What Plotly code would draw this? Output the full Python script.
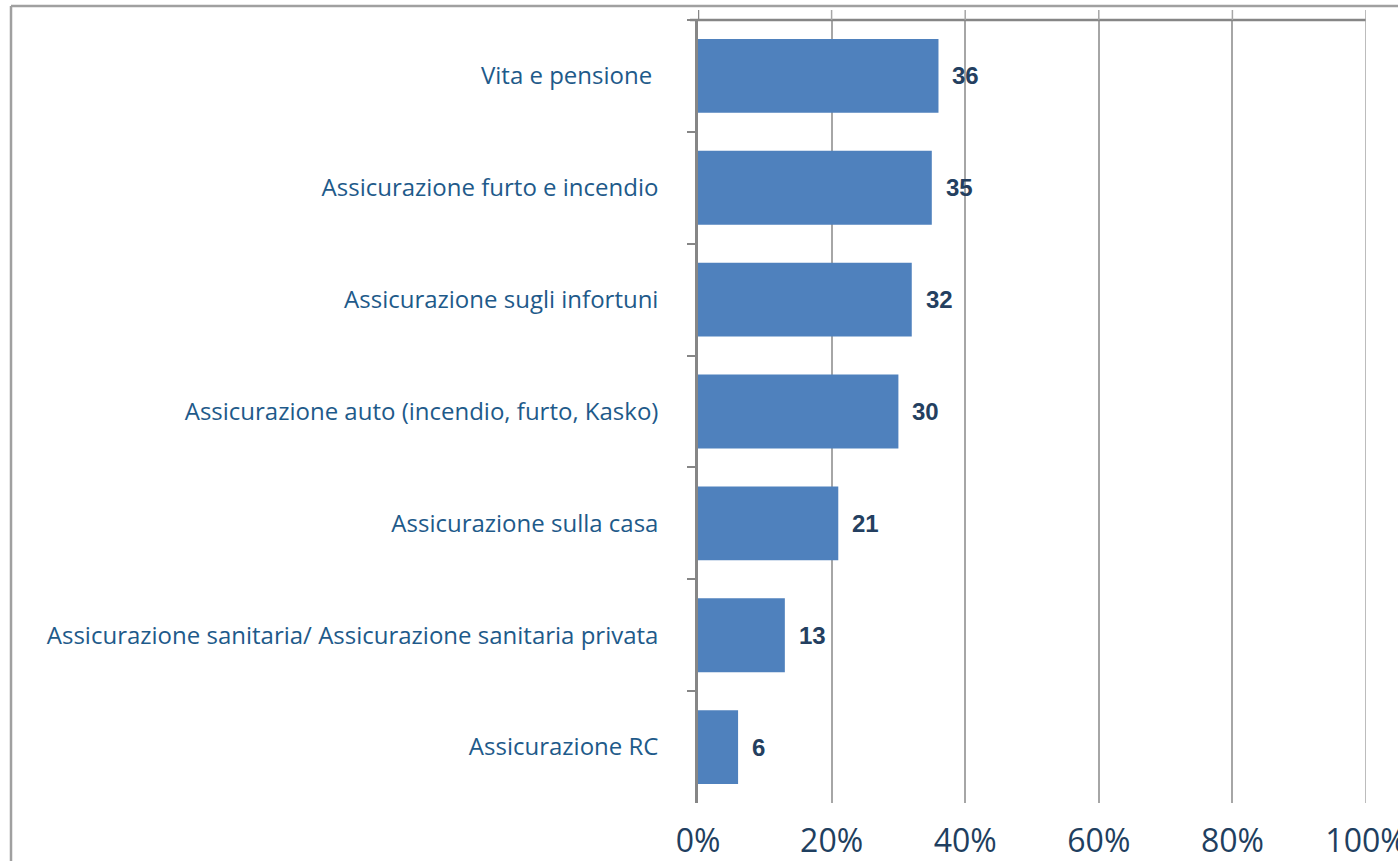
import plotly.graph_objects as go

categories = [
    "Vita e pensione ",
    "Assicurazione furto e incendio",
    "Assicurazione sugli infortuni",
    "Assicurazione auto (incendio, furto, Kasko)",
    "Assicurazione sulla casa",
    "Assicurazione sanitaria/ Assicurazione sanitaria privata",
    "Assicurazione RC",
]
values = [36, 35, 32, 30, 21, 13, 6]
tick_vals = [0, 20, 40, 60, 80, 100]
tick_labels = ["0%", "20%", "40%", "60%", "80%", "100%"]

W, H = 1398, 861
L, R, T, B = 698, 32, 20, 58
pw, ph = W - L - R, H - T - B

fig = go.Figure()
fig.add_trace(go.Bar(
    x=values, y=categories, orientation="h",
    marker=dict(color="#4F81BD", line=dict(width=0)),
    hoverinfo="x+y",
))

for c, v in zip(categories, values):
    fig.add_annotation(
        x=v, y=c, xref="x", yref="y", text=f"<b>{v}</b>", showarrow=False,
        xanchor="left", yanchor="middle", xshift=12,
        font=dict(family="Liberation Sans, Arial", size=24, color="#243F60"),
    )

shapes = []
# outer frame
shapes.append(dict(type="line", xref="paper", yref="paper",
                   x0=(11 - L) / pw, x1=(W + 5 - L) / pw,
                   y0=1 + (T - 6) / ph, y1=1 + (T - 6) / ph,
                   line=dict(color="#A0A0A0", width=2.5)))
shapes.append(dict(type="line", xref="paper", yref="paper",
                   x0=(11 - L) / pw, x1=(11 - L) / pw,
                   y0=1 + (T - 6) / ph, y1=-(B + 5) / ph,
                   line=dict(color="#A0A0A0", width=2.5)))
# top border of plot
shapes.append(dict(type="line", xref="paper", yref="paper",
                   x0=-8 / pw, x1=1, y0=1, y1=1,
                   line=dict(color="#868686", width=2.5)))
# small extensions of gridlines above the top line, and the 100% line
for tv in tick_vals:
    y0 = 0 if tv == tick_vals[-1] else 1
    shapes.append(dict(type="line", xref="x", yref="paper",
                       x0=tv, x1=tv, y0=y0, y1=1 + 10 / ph,
                       line=dict(color="#A6A6A6" if tv else "#868686",
                                 width=1.5 if tv else 2.5)))

fig.update_layout(
    width=W, height=H, autosize=False,
    margin=dict(l=L, r=R, t=T, b=B, pad=0, autoexpand=False),
    paper_bgcolor="white", plot_bgcolor="white",
    bargap=0.34,
    showlegend=False,
    shapes=shapes,
    xaxis=dict(
        range=[0, 100], tickvals=tick_vals, ticktext=tick_labels,
        showgrid=True, gridcolor="#A6A6A6", gridwidth=1.5,
        zeroline=False, showline=False, ticks="",
        tickfont=dict(family="Open Sans, Noto Sans", size=32, color="#1F3F60"),
        ticklabelstandoff=16,
        ticklabeloverflow="allow",
        automargin=False,
    ),
    yaxis=dict(
        autorange="reversed",
        showline=True, linecolor="#868686", linewidth=2.5,
        ticks="outside", ticklen=8, tickcolor="#868686", tickwidth=1.5,
        tickson="boundaries",
        showgrid=False,
        tickfont=dict(family="Open Sans, Noto Sans", size=24, color="#1E5A8A"),
        ticklabelstandoff=32,
        automargin=False,
    ),
)

fig.write_html(
    "out.html",
    config={"displayModeBar": False},
    post_script="document.body.style.margin='0';document.body.style.overflow='hidden';",
)
